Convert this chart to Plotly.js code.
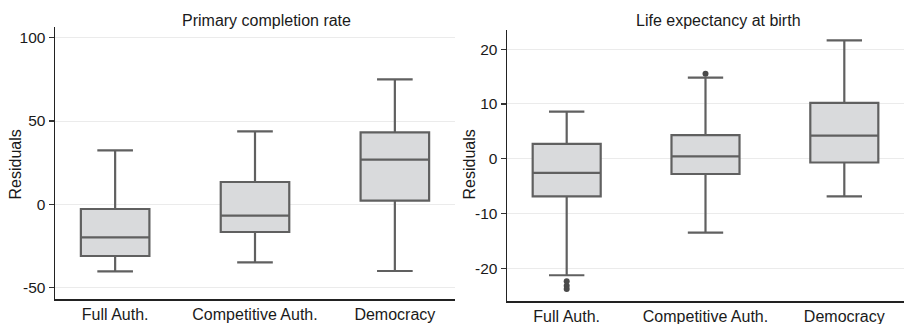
<!DOCTYPE html>
<html>
<head>
<meta charset="utf-8">
<script src="https://cdn.plot.ly/plotly-3.0.1.min.js"></script>
<style>html,body{margin:0;padding:0;background:#fff;}#chart{width:904px;height:324px;}</style>
</head>
<body>
<div id="chart"></div>
<script>
const categories = ["Full Auth.", "Competitive Auth.", "Democracy"];

// Primary completion rate residuals
const pcrLower  = [-40.2, -34.8, -40.0];
const pcrQ1     = [-31.0, -16.6,   2.2];
const pcrMedian = [-19.8,  -6.8,  26.8];
const pcrQ3     = [ -2.8,  13.4,  43.2];
const pcrUpper  = [ 32.4,  43.8,  75.0];
const pcrTickVals = [-50, 0, 50, 100];
const pcrTickText = ["-50", "0", "50", "100"];

// Life expectancy at birth residuals
const leLower  = [-21.3, -13.5, -6.9];
const leQ1     = [ -6.9,  -2.8, -0.7];
const leMedian = [ -2.6,   0.4,  4.2];
const leQ3     = [  2.7,   4.3, 10.2];
const leUpper  = [  8.6,  14.8, 21.6];
const leOutlierCat = ["Full Auth.", "Full Auth.", "Full Auth.", "Competitive Auth."];
const leOutlierVal = [-22.4, -23.2, -23.8, 15.5];
const leTickVals = [-20, -10, 0, 10, 20];
const leTickText = ["-20", "-10", "0", "10", "20"];

const lineCol = "#606060";
const fillCol = "#d9dadc";
const FONT = "Liberation Sans, Arial, sans-serif";

const boxStyle = {
  type: "box",
  fillcolor: fillCol,
  line: {color: lineCol, width: 2.2},
  whiskerwidth: 0.52,
  width: 0.49,
  boxpoints: false,
  hoverinfo: "none",
  showlegend: false
};

const traces = [
  Object.assign({}, boxStyle, {
    x: categories, q1: pcrQ1, median: pcrMedian, q3: pcrQ3,
    lowerfence: pcrLower, upperfence: pcrUpper,
    xaxis: "x", yaxis: "y"
  }),
  Object.assign({}, boxStyle, {
    x: categories, q1: leQ1, median: leMedian, q3: leQ3,
    lowerfence: leLower, upperfence: leUpper,
    xaxis: "x2", yaxis: "y2"
  }),
  {
    type: "scatter", mode: "markers",
    x: leOutlierCat, y: leOutlierVal,
    marker: {color: "#4a4a4a", size: 6},
    xaxis: "x2", yaxis: "y2", showlegend: false, hoverinfo: "none"
  }
];

const W = 904, H = 324;
const px = v => v / W;
const py = v => (H - v) / H;

const xBase = {
  type: "category",
  categoryorder: "array",
  categoryarray: categories,
  range: [-0.43, 2.43],
  showline: true, linecolor: "#222", linewidth: 1.5,
  ticks: "", showgrid: false, zeroline: false,
  tickfont: {family: FONT, size: 16, color: "#1a1a1a"},
  fixedrange: true
};
const yBase = {
  showline: true, linecolor: "#222", linewidth: 1.5,
  ticks: "outside", ticklen: 5, tickwidth: 1.2, tickcolor: "#333",
  showgrid: true, gridcolor: "#ebebeb", gridwidth: 1,
  zeroline: false,
  tickfont: {family: FONT, size: 15.5, color: "#1a1a1a"},
  tickmode: "array",
  fixedrange: true
};

const layout = {
  width: W, height: H,
  margin: {l: 0, r: 0, t: 0, b: 0},
  paper_bgcolor: "#fff", plot_bgcolor: "#fff",
  xaxis: Object.assign({}, xBase, {domain: [px(55), px(455)], anchor: "y"}),
  yaxis: Object.assign({}, yBase, {
    domain: [py(299), py(27)], anchor: "x",
    range: [-56.8, 106.4], tickvals: pcrTickVals, ticktext: pcrTickText
  }),
  xaxis2: Object.assign({}, xBase, {domain: [px(507), 1], anchor: "y2"}),
  yaxis2: Object.assign({}, yBase, {
    domain: [py(301), py(30)], anchor: "x2",
    range: [-26.0, 23.5], tickvals: leTickVals, ticktext: leTickText
  }),
  annotations: [
    {text: "Primary completion rate", xref: "paper", yref: "paper",
     x: px(266), y: py(20), xanchor: "center", yanchor: "middle", showarrow: false,
     font: {family: FONT, size: 16, color: "#1a1a1a"}},
    {text: "Life expectancy at birth", xref: "paper", yref: "paper",
     x: px(718), y: py(20), xanchor: "center", yanchor: "middle", showarrow: false,
     font: {family: FONT, size: 16, color: "#1a1a1a"}},
    {text: "Residuals", xref: "paper", yref: "paper", textangle: -90,
     x: px(15), y: py(164.5), xanchor: "center", yanchor: "middle", showarrow: false,
     font: {family: FONT, size: 16, color: "#1a1a1a"}},
    {text: "Residuals", xref: "paper", yref: "paper", textangle: -90,
     x: px(469), y: py(164.5), xanchor: "center", yanchor: "middle", showarrow: false,
     font: {family: FONT, size: 16, color: "#1a1a1a"}}
  ]
};

Plotly.newPlot("chart", traces, layout, {staticPlot: true, displayModeBar: false});
</script>
</body>
</html>
